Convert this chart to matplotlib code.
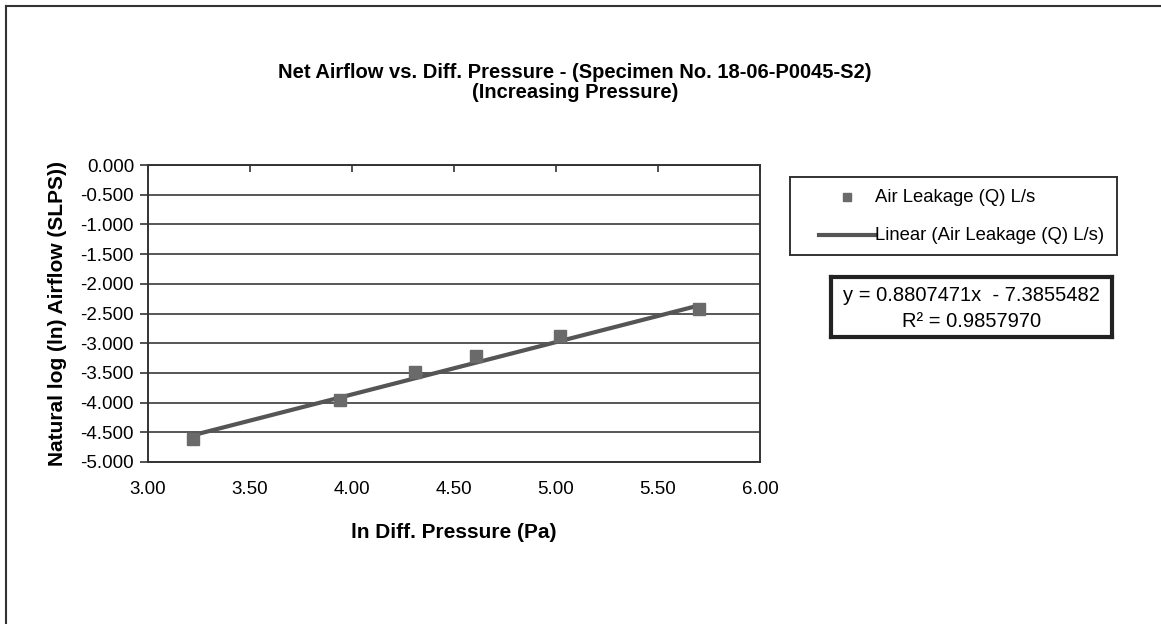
import matplotlib.pyplot as plt
import numpy as np

plt.rcParams['font.family'] = ['Liberation Sans', 'DejaVu Sans']

# ln of diff. pressure (Pa) and ln of measured airflow
ln_pressure = [3.22, 3.94, 4.31, 4.61, 5.02, 5.70]
ln_airflow = [-4.61, -3.96, -3.48, -3.22, -2.88, -2.42]

# linear trendline coefficients
slope = 0.8807471
intercept = -7.3855482
r_squared = 0.9857970

x_ticks = [3.00, 3.50, 4.00, 4.50, 5.00, 5.50, 6.00]
y_ticks = [0.0, -0.5, -1.0, -1.5, -2.0, -2.5, -3.0, -3.5, -4.0, -4.5, -5.0]

W, H = 1161, 624
fig = plt.figure(figsize=(W / 100, H / 100), dpi=100)
fig.patch.set_facecolor('white')

# outer chart frame
fig.add_artist(plt.Line2D([6 / W, 1], [1 - 6 / H, 1 - 6 / H], color='#333333', lw=1.5))
fig.add_artist(plt.Line2D([6 / W, 6 / W], [0, 1 - 6 / H], color='#333333', lw=1.5))

ax = fig.add_axes([148 / W, 1 - 462 / H, (760 - 148) / W, (462 - 165) / H])
ax.set_xlim(3.0, 6.0)
ax.set_ylim(-5.0, 0.0)

for y in y_ticks:
    ax.axhline(y, color='#3a3a3a', lw=1.2, zorder=1)

xs = np.array([ln_pressure[0], ln_pressure[-1]])
ax.plot(xs, slope * xs + intercept, color='#555555', lw=3, zorder=3,
        label='Linear (Air Leakage (Q) L/s)')
ax.plot(ln_pressure, ln_airflow, 's', color='#6a6a6a', markersize=9, zorder=4,
        label='Air Leakage (Q) L/s')

for s in ax.spines.values():
    s.set_color('#333333')
    s.set_linewidth(1.4)

ax.set_yticks(y_ticks)
ax.set_yticklabels(['%.3f' % v for v in y_ticks], fontsize=13.5)
ax.tick_params(axis='y', direction='out', length=6, width=1.2, color='#333333', pad=4)

ax.set_xticks(x_ticks)
ax.set_xticklabels(['%.2f' % v for v in x_ticks], fontsize=13.5)
ax.tick_params(axis='x', bottom=False, top=True, direction='in', length=5, width=1.2,
               color='#333333', pad=14)

ax.set_xlabel('ln Diff. Pressure (Pa)', fontsize=15, fontweight='bold', labelpad=18)
ax.set_ylabel('Natural log (ln) Airflow (SLPS))', fontsize=15, fontweight='bold', labelpad=10)

fig.text(575 / W, 1 - 72 / H, 'Net Airflow vs. Diff. Pressure - (Specimen No. 18-06-P0045-S2)',
         ha='center', va='center', fontsize=14.5, fontweight='bold')
fig.text(575 / W, 1 - 93 / H, '(Increasing Pressure)',
         ha='center', va='center', fontsize=14.5, fontweight='bold')

# legend box
leg_ax = fig.add_axes([790 / W, 1 - 255 / H, (1117 - 790) / W, (255 - 177) / H])
leg_ax.set_xlim(0, 327)
leg_ax.set_ylim(78, 0)
leg_ax.set_xticks([])
leg_ax.set_yticks([])
for s in leg_ax.spines.values():
    s.set_color('#333333')
    s.set_linewidth(1.4)
leg_ax.plot([57], [20], 's', color='#6a6a6a', markersize=6)
leg_ax.text(85, 20, 'Air Leakage (Q) L/s', fontsize=13.3, va='center')
leg_ax.plot([29, 85], [58, 58], color='#555555', lw=3)
leg_ax.text(85, 58, 'Linear (Air Leakage (Q) L/s)', fontsize=13.3, va='center')

# trendline equation box
eq_ax = fig.add_axes([831 / W, 1 - 337 / H, (1112 - 831) / W, (337 - 277) / H])
eq_ax.set_xticks([])
eq_ax.set_yticks([])
for s in eq_ax.spines.values():
    s.set_color('#222222')
    s.set_linewidth(3)
eq_ax.text(0.5, 0.69, 'y = %.7fx  - %.7f' % (slope, -intercept), transform=eq_ax.transAxes,
           ha='center', va='center', fontsize=14.5)
eq_ax.text(0.5, 0.26, 'R² = %.7f' % r_squared, transform=eq_ax.transAxes,
           ha='center', va='center', fontsize=14.5)

fig.savefig('out.png', dpi=100)
